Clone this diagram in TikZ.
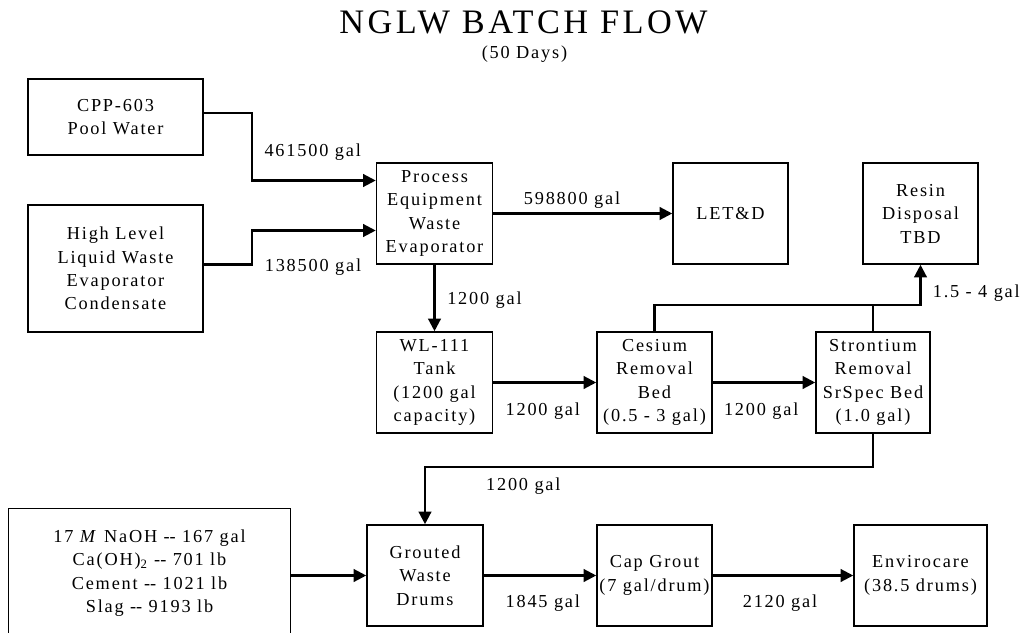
\documentclass[tikz,border=0pt]{standalone}
\usepackage{fontspec}
\setmainfont[LetterSpace=10]{Liberation Serif}
\usetikzlibrary{arrows.meta,calc,positioning}

\begin{document}
\begin{tikzpicture}[x=0.25mm,y=-0.25mm,font=\fontsize{13}{16.7}\selectfont,
  box/.style={draw,line width=1.1pt,align=center,inner sep=0pt,minimum width=2.9cm,minimum height=2.525cm},
  pipe/.style={line width=1.6pt},
  flow/.style={pipe,-{Triangle[length=9pt,width=9pt]}},
  qty/.style={inner sep=0pt}]
\useasboundingbox (0,0) rectangle (1031,633);
% heading
\node[font=\fontsize{24.4}{28}\selectfont\addfontfeature{LetterSpace=10}] (title) at (523.5,22.5) {NGLW BATCH FLOW};
\node (days) at (524.5,54.5) {(50 Days)};
% sources and evaporator
\node[box,minimum width=4.375cm,minimum height=1.9cm] (cpp) at (115.5,117) {CPP-603\\Pool Water};
\node[box,minimum width=4.375cm,minimum height=3.175cm] (hlw) at (115.5,268.5) {High Level\\Liquid Waste\\Evaporator\\Condensate};
\node[box] (pew) at (434.5,213.5) {Process\\Equipment\\Waste\\Evaporator};
\node[box,minimum width=2.875cm] (letd) at (730.5,213.5) {LET\&D};
\node[box,minimum width=2.875cm] (resin) at (920.5,213.5) {Resin\\Disposal\\TBD};
% ion exchange train
\node[box] (wl) at (434.5,382.5) {WL-111\\Tank\\(1200 gal\\capacity)};
\node[box,minimum width=2.875cm] (cs) at (654.5,382.5) {Cesium\\Removal\\Bed\\(0.5 - 3 gal)};
\node[box,minimum width=2.85cm] (sr) at (873,382.5) {Strontium\\Removal\\SrSpec Bed\\(1.0 gal)};
% grouting
\node[align=center,inner sep=0pt,minimum width=7.025cm,minimum height=3.2cm] (chem) at (149.5,573) {17 \textit{M} NaOH -\kern0pt- 167 gal\\Ca(OH)\textsubscript{2} -\kern0pt- 701 lb\\Cement -\kern0pt- 1021 lb\\Slag -\kern0pt- 9193 lb};
\draw[line width=1.1pt] (chem.south west) -- (chem.north west) -- (chem.north east) -- (chem.south east);
\node[box] (grout) at (425,575.5) {Grouted\\Waste\\Drums};
\node[box,minimum width=2.875cm] (cap) at (654.5,575.5) {Cap Grout\\(7 gal/drum)};
\node[box,minimum width=3.325cm] (envc) at (920.5,575.5) {Envirocare\\(38.5 drums)};
% flows
\draw[flow] ($(cpp.east)+(0,-4)$) -- ++(48,0) |- ($(pew.west)+(0,-33)$);
\draw[flow] ($(hlw.east)+(0,-4)$) -- ++(48,0) |- ($(pew.west)+(0,17)$);
\draw[flow] (pew) -- (letd);
\draw[flow] (pew) -- (wl);
\draw[flow] (wl) -- (cs);
\draw[flow] (cs) -- (sr);
\draw[flow] (cs.north) -- ++(0,-26) -| (resin.south);
\draw[pipe] (sr.north) -- ++(0,-26);
\draw[flow] (sr.south) -- ++(0,33) -| (grout.north);
\draw[flow] (chem.east |- grout.west) -- (grout.west);
\draw[flow] (grout) -- (cap);
\draw[flow] (cap) -- (envc);
% amounts
\node[qty] (q1) at (312.7,151.7) {461500 gal};
\node[qty] (q2) at (313,267) {138500 gal};
\node[qty] (q3) at (572,200) {598800 gal};
\node[qty] (q4) at (484.5,300.5) {1200 gal};
\node[qty] (q5) at (542.8,411) {1200 gal};
\node[qty] (q6) at (761.2,411) {1200 gal};
\node[qty] (q7) at (976.3,293) {1.5 - 4 gal};
\node[qty] (q8) at (523.3,486) {1200 gal};
\node[qty] (q9) at (542.8,603) {1845 gal};
\node[qty] (q10) at (780,603) {2120 gal};
\end{tikzpicture}
\end{document}
